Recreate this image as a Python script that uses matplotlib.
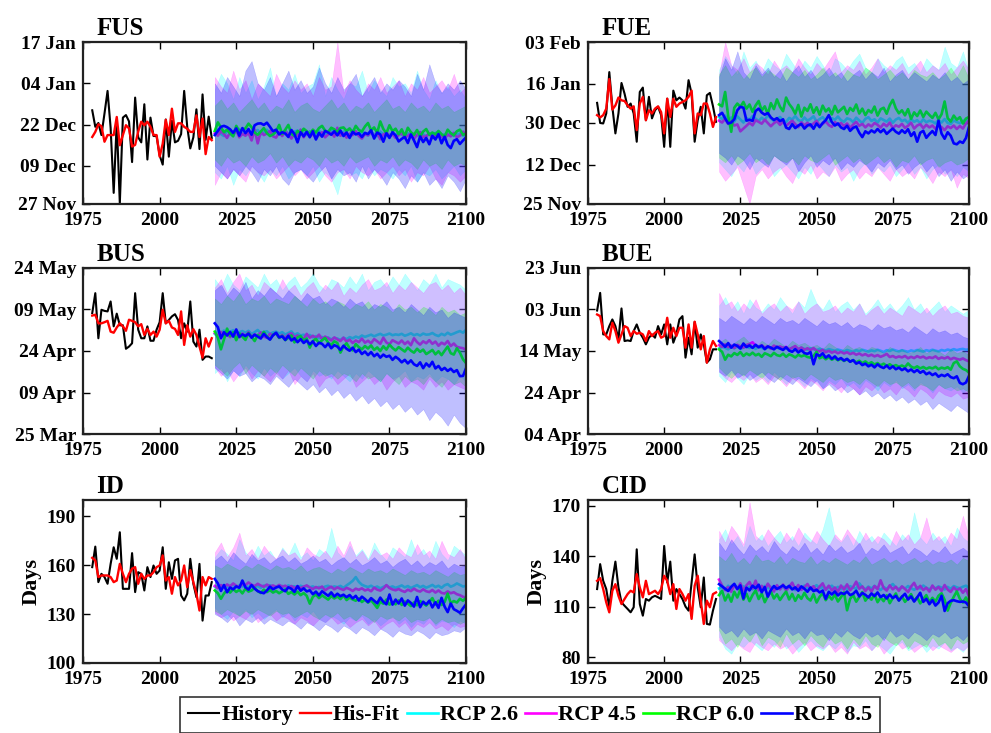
import matplotlib.pyplot as plt
import numpy as np

plt.rcParams['font.family'] = ['Liberation Serif', 'DejaVu Serif']
plt.rcParams['font.weight'] = 'bold'

hist_years = np.arange(1978, 2018)
rcp_years = np.arange(2018, 2101)
band_years = np.arange(2018, 2101, 2)

scen_names = ['RCP 2.6', 'RCP 4.5', 'RCP 6.0', 'RCP 8.5']
scen_colors = ['#00FFFF', '#FF00FF', '#00FF00', '#0000FF']

# ---------------- FUS (days after 27 Nov) ----------------
fus_hist = [29.5, 24.3, 25.5, 21.7, 28.5, 35.6, 24.0, 3.5, 25.9, 0.2,
            27.2, 28.0, 26.0, 13.2, 33.5, 21.0, 19.4, 31.4, 14.0, 27.2,
            21.4, 21.4, 15.3, 12.4, 26.6, 14.9, 26.2, 19.4, 19.9, 22.0,
            35.6, 24.3, 17.5, 21.0, 29.8, 17.3, 34.5, 20.2, 27.5, 20.8]
fus_fit = [21.1, 22.7, 25.1, 24.5, 19.6, 21.7, 21.7, 21.7, 27.4, 18.5,
           21.7, 24.8, 23.8, 18.1, 18.6, 22.8, 25.9, 24.8, 25.9, 24.3,
           21.7, 21.7, 14.9, 19.0, 26.5, 21.7, 30.0, 22.7, 25.4, 25.4,
           24.3, 23.7, 22.7, 22.7, 27.9, 21.1, 26.9, 15.7, 21.1, 20.1]
fus_26 = [22.8, 23.5, 22.0, 21.4, 23.1, 22.5, 21.7, 22.9, 23.6, 21.8,
          22.4, 23.0, 21.5, 22.7, 23.3, 21.9, 22.6, 23.4, 22.1, 21.6,
          22.9, 22.3, 21.8, 23.2, 22.0, 21.4, 22.8, 23.1, 21.9, 22.5,
          21.7, 22.9, 22.2, 21.5, 23.0, 22.4, 21.8, 22.6, 23.2, 21.9,
          22.3, 21.6, 22.8, 22.0, 21.4, 23.1, 22.5, 21.8, 22.7, 22.1,
          21.5, 22.6, 22.0, 21.3, 22.8, 21.9, 22.4, 21.7, 22.2, 21.6,
          22.5, 21.8, 21.2, 22.3, 21.6, 22.0, 21.4, 22.6, 21.9, 21.3,
          22.1, 21.5, 22.4, 21.8, 21.2, 22.0, 21.6, 22.3, 21.4, 21.9,
          22.2, 21.5, 21.8]
fus_45 = [22.3, 21.5, 23.0, 22.0, 20.8, 22.6, 21.9, 23.2, 21.0, 22.1,
          21.5, 22.4, 20.0, 23.5, 19.1, 22.8, 21.7, 22.2, 23.0, 21.3,
          20.9, 22.6, 21.4, 22.9, 21.7, 20.6, 22.2, 21.5, 23.4, 21.0,
          22.5, 21.3, 22.0, 20.7, 21.8, 22.6, 21.0, 21.9, 22.4, 21.2,
          24.0, 21.5, 22.3, 20.9, 22.1, 21.7, 22.9, 21.4, 20.6, 22.0,
          21.6, 22.8, 21.1, 22.3, 20.4, 21.9, 22.5, 21.3, 22.0, 20.8,
          21.7, 22.4, 20.9, 21.5, 22.2, 20.5, 21.8, 22.6, 21.0, 21.4,
          22.1, 20.8, 21.6, 22.0, 21.2, 20.6, 21.9, 21.3, 22.4, 21.0,
          21.5, 22.8, 21.7]
fus_60 = [23.0, 25.7, 24.1, 22.6, 23.4, 22.2, 21.3, 24.6, 22.9, 23.5,
          23.8, 25.3, 24.2, 22.5, 21.8, 22.8, 23.9, 22.3, 21.4, 21.9,
          22.8, 24.9, 22.0, 23.4, 24.9, 22.2, 21.4, 23.0, 22.3, 23.7,
          22.9, 21.9, 23.4, 22.5, 23.9, 24.6, 23.1, 22.7, 24.0, 23.5,
          22.6, 23.9, 24.1, 23.0, 23.8, 22.5, 24.6, 23.3, 22.8, 24.4,
          25.5, 23.2, 24.1, 22.4, 26.0, 23.6, 22.3, 24.8, 22.9, 23.7,
          22.0, 23.5, 21.4, 24.0, 22.6, 21.8, 23.3, 21.3, 22.8, 23.6,
          21.8, 22.5, 21.9, 23.0, 22.0, 21.2, 23.4, 22.3, 21.6, 22.9,
          23.4, 21.8, 22.2]
fus_85 = [21.7, 23.0, 24.3, 24.6, 24.2, 23.5, 22.4, 23.8, 21.5, 23.9,
          22.3, 23.6, 21.8, 24.8, 25.3, 25.4, 24.9, 25.6, 24.3, 22.9,
          23.4, 21.9, 22.6, 22.2, 21.1, 23.3, 22.0, 19.4, 22.6, 21.3,
          22.7, 21.0, 22.9, 20.3, 22.4, 21.2, 23.0, 22.5, 21.8, 22.9,
          21.6, 23.1, 21.4, 22.5, 20.8, 22.7, 21.9, 22.3, 21.1, 22.4,
          22.0, 23.2, 20.6, 22.5, 21.9, 19.6, 22.3, 20.8, 22.6, 21.6,
          19.7, 20.5, 21.1, 19.2, 21.9, 20.0, 17.9, 21.3, 19.5, 20.8,
          18.8, 21.5, 20.3, 22.0, 19.1, 21.2, 18.6, 17.6, 19.9, 20.4,
          18.9, 20.0, 21.0]
fus_hi26 = [36, 41, 38, 33, 40, 35, 39, 33, 37, 43, 34, 38, 36, 41, 35, 37, 38, 44, 34, 40, 36,
            33, 38, 37, 42, 35, 39, 36, 34, 40, 37, 38, 35, 42, 36, 33, 39, 35, 37, 34, 36, 33]
fus_lo26 = [10, 8, 12, 6, 11, 9, 12, 10, 7, 11, 9, 12, 8, 10, 11, 9, 12, 7, 10, 8, 3,
            11, 9, 10, 8, 12, 9, 11, 10, 8, 11, 9, 12, 7, 10, 9, 11, 8, 10, 12, 9, 11]
fus_hi45 = [40, 37, 35, 42, 36, 39, 33, 38, 36, 34, 41, 37, 35, 39, 36, 38, 34, 40, 36, 37, 51,
            35, 39, 36, 34, 38, 36, 40, 35, 37, 39, 34, 38, 36, 40, 35, 37, 39, 36, 41, 35, 37]
fus_lo45 = [6, 10, 8, 11, 9, 7, 12, 10, 9, 11, 8, 10, 12, 9, 11, 8, 10, 12, 9, 7, 10,
            11, 8, 12, 10, 9, 11, 8, 10, 12, 9, 11, 7, 10, 9, 12, 8, 6, 10, 9, 7, 9]
fus_hi60 = [31, 33, 30, 32, 29, 31, 33, 30, 32, 29, 31, 30, 33, 29, 31, 32, 30, 29, 31, 33, 30,
            32, 29, 31, 30, 32, 29, 31, 33, 30, 31, 29, 32, 30, 31, 29, 32, 30, 31, 29, 30, 31]
fus_lo60 = [14, 12, 15, 13, 14, 12, 15, 13, 14, 16, 13, 15, 12, 14, 13, 15, 14, 12, 15, 13, 14,
            12, 15, 13, 14, 15, 12, 14, 13, 15, 12, 14, 13, 11, 14, 12, 13, 11, 14, 12, 13, 12]
fus_hi85 = [38, 35, 40, 37, 34, 42, 45, 38, 36, 40, 34, 38, 42, 36, 39, 35, 37, 43, 38, 35, 40,
            36, 38, 41, 34, 37, 40, 35, 38, 36, 39, 37, 34, 41, 36, 44, 38, 35, 38, 36, 39, 36]
fus_lo85 = [12, 10, 8, 11, 9, 12, 10, 7, 11, 9, 12, 8, 6, 10, 11, 9, 7, 10, 12, 8, 11,
            9, 10, 7, 12, 8, 11, 9, 6, 10, 8, 5, 9, 7, 10, 6, 8, 5, 9, 7, 4, 8]
fus_ticks = [0, 12, 25, 38, 51]
fus_labels = ['27 Nov', '09 Dec', '22 Dec', '04 Jan', '17 Jan']

# ---------------- FUE (days after 25 Nov) ----------------
fue_hist = [43.7, 35.0, 34.8, 39.1, 57.0, 42.0, 30.5, 39.1, 52.3, 47.7,
            42.0, 43.4, 39.1, 26.9, 48.4, 50.3, 36.2, 46.3, 37.0, 40.5,
            42.0, 38.4, 24.7, 45.5, 24.7, 49.0, 44.8, 46.0, 44.8, 41.2,
            53.5, 47.7, 26.9, 36.2, 42.0, 30.5, 47.0, 48.0, 42.3, 35.5]
fue_fit = [38.4, 37.4, 38.4, 41.2, 54.0, 40.8, 42.6, 46.0, 44.8, 44.5,
           42.6, 41.2, 42.2, 31.9, 43.4, 46.3, 36.2, 40.5, 39.1, 41.2,
           42.2, 39.7, 30.5, 45.5, 37.6, 45.5, 42.0, 43.4, 44.1, 44.8,
           46.3, 49.0, 30.5, 39.1, 38.4, 43.4, 43.4, 39.1, 33.3, 37.6]
fue_26 = [37.5, 36.8, 38.2, 36.0, 37.4, 35.6, 37.9, 36.5, 35.2, 37.1,
          36.4, 38.0, 36.9, 35.8, 37.3, 36.2, 38.4, 37.0, 35.9, 36.8,
          37.6, 36.1, 35.4, 37.2, 36.5, 38.0, 36.3, 35.7, 37.4, 36.0,
          36.8, 37.9, 35.6, 36.7, 37.5, 36.0, 35.3, 37.1, 36.4, 37.8,
          36.2, 35.5, 37.0, 36.6, 35.4, 37.3, 36.1, 35.0, 36.8, 37.5,
          35.9, 36.6, 35.2, 37.0, 36.3, 35.6, 36.9, 35.1, 36.5, 37.2,
          35.8, 36.4, 35.0, 36.7, 35.5, 36.2, 34.9, 36.6, 35.3, 36.0,
          35.6, 34.8, 36.3, 35.2, 36.7, 35.0, 34.6, 36.1, 35.4, 34.9,
          35.8, 36.5, 35.2]
fue_45 = [36.0, 35.2, 36.8, 34.6, 35.8, 33.9, 34.4, 31.4, 32.6, 33.8,
          35.1, 34.0, 36.2, 35.5, 34.7, 36.4, 35.0, 33.6, 34.9, 35.8,
          34.2, 35.6, 33.8, 34.9, 36.0, 34.5, 33.2, 35.3, 34.0, 35.1,
          33.6, 34.8, 35.9, 33.9, 34.6, 35.7, 34.1, 33.3, 35.4, 34.2,
          35.0, 33.7, 34.8, 32.9, 34.3, 35.5, 33.8, 34.6, 33.1, 34.4,
          33.5, 35.0, 34.2, 33.0, 34.7, 33.6, 35.2, 32.8, 34.0, 33.4,
          34.6, 32.9, 33.8, 35.1, 32.6, 33.9, 34.5, 32.8, 34.2, 33.1,
          33.9, 32.5, 34.0, 33.2, 31.9, 33.6, 32.8, 33.9, 32.4, 33.7,
          32.6, 34.8, 36.0]
fue_60 = [43.0, 42.2, 48.4, 38.0, 31.2, 41.6, 43.4, 42.0, 44.1, 41.2,
          43.0, 39.8, 42.6, 44.5, 40.4, 42.2, 38.9, 43.6, 41.0, 45.2,
          42.0, 40.1, 46.0, 43.2, 41.5, 39.0, 42.8, 37.8, 41.6, 40.2,
          43.1, 39.4, 41.8, 38.6, 42.5, 40.0, 41.3, 38.7, 42.4, 39.6,
          40.8, 42.0, 38.9, 41.5, 40.2, 43.0, 39.1, 41.2, 38.4, 40.6,
          39.5, 42.1, 38.2, 40.9, 41.6, 39.0, 42.7, 45.0, 41.3, 39.2,
          40.5, 38.3, 41.0, 36.8, 39.6, 38.0, 40.4, 37.6, 39.9, 38.5,
          37.2, 39.4, 36.6, 38.8, 44.3, 37.1, 35.6, 38.2, 36.4, 37.5,
          34.8, 36.9, 37.6]
fue_85 = [38.4, 39.4, 37.0, 34.8, 35.2, 36.6, 40.5, 42.0, 41.6, 36.0,
          36.4, 35.9, 40.2, 41.2, 39.5, 38.6, 39.3, 37.4, 36.3, 37.1,
          35.8, 36.6, 33.0, 32.4, 34.5, 32.8, 33.9, 34.6, 32.6, 33.9,
          34.4, 32.5, 34.8, 33.2, 35.0, 36.2, 38.4, 35.4, 33.9, 34.8,
          33.1, 32.4, 33.8, 31.6, 32.9, 33.5, 30.8, 28.9, 31.4, 30.5,
          31.8, 30.9, 32.4, 31.0, 32.2, 30.3, 31.5, 32.6, 31.2, 30.4,
          31.9, 30.7, 32.3, 29.4, 31.0, 26.9, 30.8, 31.6, 28.6, 30.2,
          31.5, 29.8, 36.0, 30.4, 28.2, 31.0, 29.5, 26.2, 25.8, 27.0,
          26.4, 28.5, 33.3]
fue_hi26 = [58, 64, 60, 56, 66, 59, 62, 57, 63, 60, 58, 65, 61, 57, 62, 59, 64, 60, 56, 63, 61,
            58, 62, 65, 59, 57, 63, 60, 58, 62, 64, 59, 61, 57, 63, 60, 58, 68, 61, 59, 66, 57]
fue_lo26 = [18, 15, 12, 17, 14, 19, 13, 16, 18, 12, 15, 17, 14, 11, 16, 13, 18, 15, 12, 17, 14,
            16, 10, 15, 18, 13, 16, 14, 17, 12, 15, 18, 13, 16, 11, 15, 17, 13, 15, 12, 16, 14]
fue_hi45 = [56, 70, 60, 58, 63, 57, 61, 59, 56, 62, 58, 60, 57, 63, 59, 56, 61, 58, 62, 66, 57,
            60, 58, 62, 56, 59, 63, 57, 60, 58, 61, 56, 59, 62, 57, 60, 58, 61, 56, 59, 62, 58]
fue_lo45 = [14, 10, 13, 16, 8, 0, 12, 15, 11, 14, 16, 12, 9, 15, 13, 17, 11, 14, 12, 16, 10,
            13, 15, 11, 14, 12, 16, 13, 10, 15, 12, 14, 11, 16, 13, 9, 14, 12, 15, 7, 13, 11]
fue_hi60 = [56, 60, 55, 58, 54, 57, 59, 55, 58, 56, 54, 59, 57, 55, 58, 54, 56, 59, 55, 57, 54,
            58, 56, 55, 59, 57, 54, 56, 58, 55, 57, 54, 58, 56, 55, 57, 54, 56, 59, 55, 60, 54]
fue_lo60 = [20, 18, 21, 17, 19, 22, 18, 20, 17, 21, 19, 18, 20, 17, 21, 19, 18, 20, 22, 17, 19,
            21, 18, 20, 17, 19, 21, 18, 20, 16, 19, 18, 21, 17, 19, 20, 16, 18, 19, 17, 18, 20]
fue_hi85 = [55, 63, 58, 66, 57, 54, 60, 56, 59, 55, 58, 53, 57, 60, 55, 58, 54, 56, 59, 55, 57,
            53, 56, 58, 54, 57, 55, 59, 53, 56, 58, 54, 57, 55, 53, 56, 54, 57, 53, 55, 52, 54]
fue_lo85 = [22, 20, 17, 21, 19, 15, 20, 18, 16, 21, 19, 17, 20, 14, 18, 21, 16, 19, 17, 20, 15,
            18, 16, 19, 17, 14, 18, 16, 19, 15, 17, 13, 16, 18, 14, 17, 12, 15, 10, 14, 11, 13]
fue_ticks = [0, 17, 35, 52, 70]
fue_labels = ['25 Nov', '12 Dec', '30 Dec', '16 Jan', '03 Feb']

# ---------------- BUS (days after 25 Mar) ----------------
bus_hist = [43.7, 50.9, 34.6, 44.9, 44.5, 44.3, 47.9, 38.9, 43.5, 39.3,
            39.3, 30.8, 31.6, 32.8, 50.9, 37.7, 34.6, 34.6, 38.9, 33.7,
            33.7, 37.7, 40.4, 50.9, 40.0, 41.2, 42.5, 43.3, 41.2, 34.6,
            40.0, 37.0, 47.9, 33.4, 31.6, 37.7, 26.8, 28.0, 28.0, 27.4]
bus_fit = [42.8, 43.1, 40.0, 40.0, 40.4, 40.9, 37.0, 36.6, 38.5, 40.0,
           38.9, 37.3, 41.3, 40.9, 40.4, 38.9, 39.7, 35.8, 38.0, 35.8,
           37.0, 35.2, 37.7, 44.9, 40.0, 40.9, 38.5, 38.0, 35.8, 44.3,
           32.2, 39.3, 35.2, 37.9, 35.8, 31.6, 27.6, 34.6, 31.6, 34.6]
bus_26 = [36.2, 37.0, 36.5, 37.4, 36.0, 36.9, 37.5, 36.3, 36.8, 37.2,
          36.6, 37.3, 36.1, 36.8, 37.6, 36.4, 36.9, 37.1, 36.2, 36.7,
          37.0, 36.3, 36.8, 35.9, 36.5, 37.1, 35.8, 36.4, 35.6, 35.9,
          35.3, 35.8, 34.9, 35.4, 34.6, 35.1, 34.4, 34.9, 34.2, 34.7,
          34.5, 34.0, 34.8, 34.3, 35.0, 34.6, 35.2, 34.8, 35.6, 35.1,
          35.5, 35.9, 35.3, 35.8, 36.2, 35.6, 35.9, 36.3, 35.7, 36.0,
          35.8, 36.2, 35.5, 35.9, 36.4, 35.7, 36.1, 35.6, 36.3, 35.9,
          36.0, 36.5, 35.8, 35.4, 36.2, 35.7, 36.6, 35.9, 36.3, 36.8,
          37.2, 36.6, 37.7]
bus_45 = [36.4, 35.6, 36.9, 35.2, 36.1, 35.0, 36.6, 35.8, 34.9, 36.3,
          35.4, 36.8, 35.1, 36.0, 35.5, 36.7, 35.2, 34.8, 36.2, 35.6,
          36.5, 35.0, 35.8, 34.6, 35.9, 36.4, 34.9, 35.6, 35.1, 34.4,
          36.2, 34.8, 35.5, 34.7, 35.9, 34.3, 35.2, 34.6, 33.8, 34.9,
          34.2, 33.6, 34.8, 33.4, 34.1, 32.9, 33.8, 33.2, 34.5, 33.0,
          33.7, 32.8, 34.3, 33.5, 32.6, 34.8, 33.1, 32.4, 33.9, 33.3,
          32.7, 33.8, 32.5, 33.4, 32.1, 34.6, 33.2, 32.3, 33.5, 32.8,
          33.9, 32.6, 33.4, 31.9, 33.0, 32.4, 33.6, 31.8, 32.7, 31.5,
          31.2, 31.0, 30.4]
bus_60 = [37.0, 34.8, 30.6, 34.2, 38.1, 35.4, 36.8, 33.9, 36.4, 35.2,
          34.0, 36.5, 35.1, 33.6, 35.8, 34.9, 36.9, 35.3, 34.2, 35.9,
          36.4, 34.7, 35.5, 33.9, 34.8, 35.6, 33.1, 34.9, 35.4, 33.8,
          34.5, 31.2, 33.6, 34.4, 32.8, 33.9, 34.7, 33.0, 32.2, 33.5,
          32.9, 29.4, 31.6, 32.8, 31.0, 30.2, 32.5, 31.4, 30.6, 31.8,
          30.9, 32.0, 30.4, 31.3, 30.0, 31.7, 30.5, 32.3, 31.1, 30.2,
          31.4, 30.6, 29.8, 31.2, 30.1, 29.4, 30.8, 29.7, 30.5, 28.9,
          29.6, 30.4, 28.8, 29.9, 28.5, 30.1, 31.6, 29.2, 28.7, 31.0,
          29.4, 27.0, 25.6]
bus_85 = [40.0, 38.6, 34.6, 36.8, 35.6, 36.9, 35.2, 37.8, 35.1, 36.0,
          35.4, 36.3, 34.8, 35.9, 35.2, 34.5, 36.2, 35.0, 34.1, 35.7,
          36.6, 34.9, 35.3, 34.0, 35.5, 33.8, 34.6, 33.2, 34.3, 32.9,
          33.8, 32.4, 33.5, 31.8, 33.0, 32.6, 31.4, 32.7, 31.0, 32.1,
          31.6, 30.4, 31.9, 30.8, 30.1, 31.2, 29.6, 30.5, 28.9, 29.8,
          28.5, 29.6, 28.1, 29.0, 27.6, 28.7, 27.9, 28.3, 26.8, 27.9,
          27.1, 25.9, 26.8, 25.5, 26.6, 25.2, 24.6, 25.9, 23.8, 25.5,
          24.4, 26.1, 23.7, 24.6, 23.1, 23.9, 22.8, 23.6, 22.4, 23.1,
          20.9, 21.0, 23.8]
bus_hi26 = [56, 53, 58, 54, 52, 57, 55, 53, 58, 54, 56, 52, 55, 57, 53, 55, 58, 54, 52, 56, 55,
            53, 57, 54, 58, 52, 55, 56, 53, 57, 54, 58, 55, 52, 56, 54, 58, 53, 56, 55, 54, 52]
bus_lo26 = [22, 24, 19, 23, 21, 25, 22, 20, 24, 21, 23, 20, 22, 24, 21, 19, 23, 21, 22, 20, 23,
            21, 19, 22, 20, 23, 21, 19, 22, 20, 21, 23, 19, 21, 20, 22, 19, 21, 20, 18, 21, 19]
bus_hi45 = [53, 56, 51, 55, 58, 52, 54, 50, 55, 53, 51, 56, 52, 54, 50, 53, 55, 51, 54, 52, 55,
            50, 53, 51, 54, 56, 52, 53, 55, 51, 54, 52, 55, 53, 51, 54, 55, 52, 54, 51, 53, 50]
bus_lo45 = [24, 21, 23, 19, 22, 24, 20, 23, 21, 19, 22, 20, 23, 18, 21, 19, 22, 17, 20, 21, 18,
            20, 22, 17, 19, 21, 18, 20, 16, 19, 21, 17, 19, 18, 16, 20, 17, 19, 16, 18, 17, 16]
bus_hi60 = [49, 47, 50, 48, 51, 47, 49, 48, 50, 47, 49, 48, 47, 50, 48, 46, 49, 47, 48, 46, 48,
            47, 45, 47, 46, 48, 45, 47, 46, 44, 47, 45, 46, 44, 46, 45, 43, 46, 44, 45, 43, 44]
bus_lo60 = [25, 23, 21, 24, 26, 22, 25, 23, 21, 24, 22, 25, 23, 21, 24, 22, 20, 23, 21, 22, 20,
            22, 21, 19, 22, 20, 21, 19, 22, 20, 18, 21, 19, 20, 18, 21, 19, 17, 20, 18, 19, 17]
bus_hi85 = [52, 54, 50, 53, 51, 55, 49, 52, 50, 53, 51, 49, 52, 50, 48, 51, 49, 50, 47, 49, 48,
            46, 49, 47, 48, 45, 47, 46, 48, 45, 46, 44, 47, 45, 43, 46, 44, 45, 42, 44, 43, 42]
bus_lo85 = [24, 22, 20, 23, 21, 22, 19, 21, 20, 18, 21, 19, 17, 20, 18, 16, 18, 15, 17, 14, 16,
            13, 15, 12, 14, 11, 13, 10, 12, 9, 11, 8, 10, 7, 9, 5, 8, 6, 3, 7, 4, 2]
bus_ticks = [0, 15, 30, 45, 60]
bus_labels = ['25 Mar', '09 Apr', '24 Apr', '09 May', '24 May']

# ---------------- BUE (days after 04 Apr) ----------------
bue_hist = [59.5, 68.0, 48.0, 48.0, 52.0, 55.2, 52.0, 45.6, 60.5, 44.8,
            45.1, 44.8, 49.6, 52.8, 48.8, 46.4, 43.2, 46.4, 48.0, 46.4,
            52.0, 48.0, 52.8, 43.2, 52.8, 44.0, 48.0, 55.2, 56.8, 36.8,
            46.4, 38.4, 54.0, 41.6, 48.0, 43.2, 34.4, 36.0, 40.8, 40.8]
bue_fit = [57.6, 56.8, 49.6, 47.2, 45.6, 53.6, 49.6, 44.0, 48.0, 52.0,
           51.2, 47.2, 49.6, 48.3, 48.8, 48.0, 44.8, 49.6, 47.2, 48.8,
           49.6, 46.4, 47.2, 56.0, 46.4, 51.2, 47.2, 51.2, 51.2, 41.6,
           52.8, 41.6, 54.1, 48.0, 40.8, 47.2, 34.4, 40.8, 44.8, 42.4]
bue_26 = [41.2, 42.0, 41.5, 40.8, 41.9, 41.3, 42.2, 41.0, 41.7, 42.1,
          41.4, 41.9, 41.0, 42.0, 41.5, 40.9, 41.8, 41.3, 42.1, 41.6,
          41.1, 41.8, 41.4, 40.7, 41.6, 41.2, 40.8, 41.5, 41.0, 40.6,
          41.3, 40.9, 40.4, 41.1, 40.6, 40.2, 40.9, 40.5, 40.1, 40.7,
          40.3, 39.8, 40.5, 40.0, 39.6, 40.4, 39.9, 40.6, 40.2, 39.7,
          40.3, 39.9, 40.6, 40.1, 39.5, 40.4, 40.0, 40.7, 40.2, 39.8,
          40.4, 40.0, 39.6, 40.3, 39.9, 40.5, 40.1, 39.7, 40.4, 40.0,
          40.6, 40.2, 39.8, 40.5, 40.1, 40.7, 40.3, 40.9, 40.4, 40.8,
          41.0, 40.6, 40.8]
bue_45 = [42.8, 42.0, 43.2, 41.8, 42.6, 41.4, 43.0, 42.2, 41.6, 42.9,
          43.4, 44.2, 42.5, 41.9, 42.8, 41.6, 42.3, 41.1, 42.6, 41.8,
          42.2, 41.5, 42.0, 40.8, 41.6, 42.4, 40.9, 41.7, 40.6, 41.3,
          40.5, 41.4, 40.2, 39.8, 40.6, 39.4, 40.1, 39.2, 39.8, 38.9,
          39.6, 38.8, 39.4, 38.5, 39.1, 38.2, 38.8, 37.9, 38.5, 37.6,
          38.2, 37.4, 38.0, 37.2, 37.8, 38.6, 37.1, 37.6, 36.8, 37.4,
          36.9, 37.6, 36.5, 37.2, 36.6, 37.5, 36.8, 37.3, 36.4, 37.0,
          36.6, 37.4, 36.2, 36.9, 36.4, 37.1, 36.0, 36.7, 36.2, 35.8,
          36.4, 35.6, 35.0]
bue_60 = [40.8, 39.6, 35.8, 38.2, 37.4, 39.0, 38.1, 39.5, 37.6, 38.8,
          38.0, 39.2, 37.9, 38.6, 37.2, 38.9, 38.3, 37.5, 39.1, 38.0,
          37.6, 38.7, 37.2, 38.4, 37.8, 36.9, 38.2, 37.4, 38.0, 37.1,
          36.8, 37.6, 39.6, 36.5, 37.3, 36.0, 37.1, 35.8, 36.6, 35.5,
          36.3, 35.2, 36.0, 34.9, 35.6, 34.5, 35.3, 34.2, 35.0, 33.8,
          34.6, 33.5, 34.2, 33.1, 33.9, 32.8, 33.6, 32.6, 33.2, 32.4,
          33.0, 32.2, 34.0, 32.5, 31.8, 32.6, 31.6, 32.3, 31.4, 32.1,
          31.6, 32.4, 31.2, 32.0, 31.5, 32.2, 31.0, 34.2, 35.0, 32.6,
          31.4, 30.8, 29.6]
bue_85 = [44.8, 43.5, 42.0, 43.8, 41.6, 43.1, 42.4, 41.2, 43.6, 41.9,
          42.7, 41.5, 43.0, 41.8, 42.6, 40.9, 42.2, 41.6, 40.8, 42.0,
          41.2, 40.5, 41.8, 40.2, 39.6, 40.9, 39.3, 40.4, 39.0, 38.6,
          39.5, 33.6, 38.4, 37.6, 38.9, 36.8, 37.9, 36.2, 37.4, 35.8,
          36.6, 35.4, 36.2, 34.8, 35.6, 33.9, 34.6, 33.2, 33.9, 32.6,
          33.4, 32.1, 33.6, 32.4, 31.8, 33.0, 31.5, 32.6, 31.2, 32.0,
          30.8, 31.6, 30.2, 31.1, 29.8, 30.9, 29.5, 30.4, 28.8, 29.6,
          28.4, 29.2, 27.6, 28.5, 27.9, 28.8, 27.4, 26.9, 27.8, 24.6,
          24.0, 24.8, 28.0]
bue_hi26 = [62, 66, 60, 64, 58, 65, 61, 59, 63, 60, 66, 62, 58, 64, 61, 70, 63, 60, 65, 59, 62,
            64, 60, 63, 58, 61, 65, 60, 63, 59, 62, 66, 60, 63, 58, 61, 64, 59, 62, 60, 58, 60]
bue_lo26 = [28, 25, 30, 27, 24, 29, 26, 28, 25, 30, 27, 24, 28, 26, 23, 27, 25, 22, 26, 24, 27,
            23, 25, 22, 26, 24, 21, 25, 23, 26, 22, 24, 21, 25, 23, 20, 24, 22, 21, 23, 20, 22]
bue_hi45 = [68, 62, 64, 59, 63, 60, 65, 58, 61, 63, 59, 62, 60, 64, 58, 61, 63, 59, 60, 62, 58,
            61, 59, 63, 57, 60, 62, 58, 61, 59, 57, 62, 60, 58, 61, 57, 60, 62, 58, 59, 57, 56]
bue_lo45 = [30, 27, 25, 28, 26, 29, 25, 27, 24, 28, 26, 23, 27, 25, 22, 26, 24, 21, 25, 23, 20,
            24, 22, 19, 23, 21, 24, 20, 22, 19, 23, 21, 18, 22, 20, 17, 21, 19, 18, 20, 17, 18]
bue_hi60 = [44, 46, 43, 45, 47, 44, 42, 45, 43, 46, 44, 42, 45, 43, 44, 42, 43, 41, 44, 42, 40,
            43, 41, 42, 40, 42, 41, 39, 42, 40, 41, 39, 40, 42, 39, 41, 40, 38, 41, 39, 40, 38]
bue_lo60 = [32, 29, 27, 30, 28, 31, 29, 27, 30, 28, 26, 29, 27, 28, 26, 29, 27, 25, 28, 26, 27,
            25, 26, 24, 27, 25, 23, 26, 24, 25, 23, 25, 22, 24, 23, 21, 24, 22, 23, 21, 22, 20]
bue_hi85 = [56, 54, 57, 55, 53, 56, 54, 57, 55, 53, 56, 54, 55, 53, 56, 54, 52, 55, 53, 54, 52,
            54, 51, 53, 52, 50, 53, 51, 52, 50, 51, 49, 52, 50, 48, 51, 49, 50, 48, 49, 47, 46]
bue_lo85 = [30, 28, 31, 27, 29, 26, 28, 30, 27, 25, 28, 26, 24, 27, 25, 23, 26, 22, 24, 21, 23,
            20, 22, 19, 21, 18, 20, 17, 19, 16, 18, 15, 17, 14, 16, 12, 15, 13, 11, 14, 12, 10]
bue_ticks = [0, 20, 40, 60, 80]
bue_labels = ['04 Apr', '24 Apr', '14 May', '03 Jun', '23 Jun']

# ---------------- ID (days) ----------------
id_hist = [158.8, 171.4, 149.6, 154.7, 152.7, 148.6, 160.8, 171.0, 163.9, 180.2,
           145.5, 145.5, 145.5, 167.4, 143.5, 155.7, 154.7, 144.5, 158.8, 152.7,
           159.8, 154.7, 156.7, 171.0, 145.5, 161.8, 151.6, 162.9, 163.9, 141.4,
           138.4, 142.5, 163.9, 148.6, 140.4, 160.8, 126.0, 141.4, 141.4, 149.6]
id_fit = [164.5, 162.9, 152.7, 153.7, 153.7, 153.7, 152.7, 149.6, 150.6, 160.8,
          154.7, 149.6, 154.7, 157.8, 158.8, 148.6, 154.7, 151.6, 153.7, 153.7,
          155.7, 158.8, 159.8, 166.0, 150.6, 152.7, 142.5, 152.7, 147.6, 150.6,
          159.8, 146.5, 157.0, 149.6, 142.5, 132.2, 152.7, 147.6, 152.7, 151.6]
id_26 = [146.8, 147.5, 146.2, 147.9, 146.6, 147.2, 148.0, 146.4, 147.6, 146.9,
         147.4, 146.5, 147.8, 146.8, 147.2, 146.1, 147.5, 146.9, 147.7, 146.4,
         147.0, 146.5, 147.3, 146.2, 147.6, 146.8, 147.1, 146.0, 147.4, 146.6,
         147.2, 146.4, 147.0, 145.9, 146.7, 145.6, 146.9, 147.4, 146.2, 147.0,
         146.5, 147.3, 146.1, 147.6, 148.9, 150.4, 152.7, 149.8, 148.0, 147.2,
         146.6, 147.4, 146.2, 146.9, 145.8, 146.7, 147.5, 146.3, 147.0, 146.1,
         146.8, 147.6, 146.4, 147.2, 146.0, 146.9, 147.8, 146.5, 147.3, 146.2,
         147.0, 147.9, 146.6, 147.4, 146.1, 147.7, 148.4, 146.8, 147.6, 148.8,
         147.9, 146.9, 147.4]
id_45 = [147.2, 146.0, 147.8, 146.5, 148.2, 147.0, 148.8, 147.4, 146.6, 148.5,
         147.8, 149.4, 148.0, 147.2, 148.6, 147.5, 146.8, 148.1, 147.0, 147.6,
         146.6, 147.9, 146.8, 147.4, 146.2, 147.2, 146.0, 147.0, 145.9, 146.8,
         147.6, 146.3, 145.4, 146.6, 145.8, 146.9, 144.6, 145.9, 146.8, 145.2,
         146.4, 145.5, 144.8, 146.1, 145.3, 144.2, 145.6, 144.9, 145.8, 144.5,
         145.2, 144.0, 146.2, 145.0, 144.4, 145.7, 147.8, 146.0, 145.1, 144.6,
         145.4, 144.3, 143.6, 145.0, 144.1, 145.6, 144.4, 143.8, 145.2, 144.0,
         143.5, 144.8, 143.2, 144.5, 143.0, 142.6, 143.9, 142.8, 143.4, 142.2,
         141.6, 140.6, 140.2]
id_60 = [144.5, 142.8, 139.4, 142.6, 144.8, 143.2, 145.4, 143.6, 144.9, 142.7,
         145.6, 143.8, 144.5, 146.2, 144.1, 142.9, 145.0, 143.5, 144.7, 143.2,
         144.2, 142.8, 143.9, 145.1, 142.4, 143.6, 142.0, 143.8, 141.6, 142.9,
         141.2, 136.4, 140.6, 142.0, 139.8, 141.5, 140.2, 138.9, 141.1, 139.6,
         140.8, 139.2, 141.4, 138.6, 140.1, 139.0, 138.2, 139.7, 137.4, 138.8,
         137.0, 138.5, 136.2, 133.8, 137.6, 136.4, 138.9, 135.8, 137.2, 136.0,
         138.4, 135.6, 137.8, 136.5, 134.9, 137.2, 135.4, 138.0, 136.6, 135.2,
         137.5, 139.8, 136.0, 138.2, 135.6, 137.4, 142.6, 136.8, 138.0, 137.1,
         139.4, 138.2, 140.0]
id_85 = [151.6, 148.8, 144.2, 147.8, 143.4, 146.3, 145.2, 147.0, 146.1, 150.6,
         146.4, 145.0, 147.8, 145.6, 144.1, 143.3, 142.8, 144.5, 146.8, 145.2,
         146.3, 147.0, 145.1, 144.0, 146.4, 145.5, 143.6, 147.2, 144.3, 145.8,
         143.9, 144.6, 142.2, 143.8, 141.5, 144.0, 142.6, 141.2, 143.3, 140.8,
         142.5, 141.0, 141.9, 140.4, 141.7, 139.6, 141.2, 138.3, 140.7, 139.2,
         137.4, 139.8, 138.2, 136.6, 140.1, 137.5, 136.0, 142.0, 135.8, 138.9,
         136.5, 139.6, 135.2, 138.4, 136.8, 134.6, 140.5, 134.2, 137.6, 135.9,
         138.2, 134.1, 137.3, 133.8, 140.0, 134.6, 131.2, 136.5, 133.0, 132.0,
         130.8, 133.6, 136.0]
id_hi26 = [165, 170, 167, 163, 176, 168, 164, 172, 166, 169, 163, 171, 166, 174, 165, 168, 163, 170, 167, 183, 168,
           164, 172, 166, 170, 164, 174, 167, 163, 171, 168, 165, 176, 166, 170, 164, 175, 167, 163, 172, 169, 166]
id_lo26 = [134, 130, 127, 132, 129, 133, 128, 131, 127, 130, 133, 128, 131, 126, 130, 128, 132, 127, 125, 129, 127,
           124, 128, 126, 129, 124, 127, 123, 126, 129, 124, 127, 122, 126, 124, 128, 123, 126, 125, 122, 126, 124]
id_hi45 = [168, 174, 165, 171, 180, 166, 170, 164, 172, 167, 164, 170, 166, 168, 163, 171, 167, 165, 169, 164, 172,
           166, 175, 165, 169, 163, 170, 166, 168, 164, 171, 167, 165, 173, 166, 169, 164, 175, 167, 165, 170, 163]
id_lo45 = [131, 128, 130, 126, 129, 127, 131, 125, 128, 130, 126, 129, 127, 124, 128, 126, 123, 127, 125, 128, 124,
           126, 122, 125, 127, 123, 126, 121, 124, 126, 122, 125, 120, 124, 122, 125, 121, 123, 120, 124, 122, 123]
id_hi60 = [160, 158, 161, 159, 157, 160, 158, 161, 159, 157, 160, 158, 159, 157, 160, 156, 158, 159, 157, 155, 158,
           156, 159, 157, 155, 158, 156, 157, 155, 158, 156, 154, 157, 155, 156, 154, 157, 155, 153, 156, 154, 155]
id_lo60 = [132, 130, 133, 131, 129, 132, 130, 133, 131, 129, 132, 130, 131, 128, 130, 132, 129, 127, 130, 128, 131,
           127, 129, 126, 130, 128, 125, 129, 127, 128, 126, 129, 125, 127, 126, 128, 124, 127, 125, 126, 124, 126]
id_hi85 = [163, 166, 162, 168, 164, 161, 167, 163, 165, 161, 164, 166, 162, 165, 161, 163, 166, 162, 164, 160, 163,
           165, 161, 164, 160, 162, 165, 161, 163, 159, 162, 164, 160, 163, 159, 162, 160, 163, 158, 161, 159, 160]
id_lo85 = [130, 128, 125, 129, 123, 127, 125, 128, 124, 127, 125, 123, 126, 124, 121, 125, 123, 120, 124, 122, 119,
           123, 121, 118, 122, 120, 117, 121, 119, 116, 120, 118, 117, 120, 118, 115, 119, 117, 118, 120, 119, 122]
id_ticks = [100, 130, 160, 190]

# ---------------- CID (days) ----------------
cid_hist = [120.4, 135.2, 125.3, 120.4, 109.6, 125.3, 136.7, 121.4, 112.5, 110.5,
            108.6, 106.6, 109.6, 144.0, 111.5, 104.6, 114.5, 113.5, 115.5, 116.4,
            115.5, 114.5, 146.0, 124.3, 136.7, 113.5, 120.4, 117.4, 114.5, 110.0,
            107.6, 124.3, 141.0, 121.4, 109.6, 127.3, 99.7, 99.3, 107.6, 114.5]
cid_fit = [125.3, 126.9, 120.4, 112.5, 106.6, 119.4, 123.3, 116.4, 111.5, 114.5,
           117.4, 119.4, 118.4, 129.3, 121.4, 115.5, 125.3, 117.4, 118.4, 119.4,
           117.4, 120.4, 128.3, 125.3, 117.4, 123.3, 108.6, 120.4, 117.4, 113.5,
           117.4, 102.7, 122.3, 128.3, 113.5, 99.7, 113.5, 109.6, 117.4, 118.4]
cid_26 = [120.8, 121.6, 119.9, 122.4, 120.6, 123.0, 121.2, 119.8, 122.1, 120.5,
          121.8, 120.2, 122.6, 121.0, 119.6, 122.3, 120.9, 121.7, 120.1, 122.0,
          120.6, 121.9, 120.3, 122.2, 121.1, 119.8, 121.5, 120.4, 122.5, 121.0,
          120.2, 121.4, 122.7, 120.8, 121.6, 119.9, 121.2, 122.4, 120.5, 121.7,
          120.4, 121.8, 120.0, 122.1, 121.3, 120.6, 123.8, 121.5, 120.2, 121.9,
          120.7, 122.3, 121.0, 119.8, 121.6, 120.5, 122.0, 123.4, 121.2, 120.4,
          121.8, 120.6, 122.2, 121.0, 119.9, 121.4, 120.7, 122.5, 121.1, 120.3,
          121.6, 120.8, 122.0, 121.3, 120.1, 121.7, 120.5, 122.2, 121.4, 120.9,
          121.8, 122.4, 121.0]
cid_45 = [126.0, 122.4, 119.8, 121.6, 118.8, 122.9, 120.4, 123.8, 119.2, 122.6,
          124.6, 120.8, 125.4, 119.6, 122.3, 120.1, 123.6, 121.0, 118.9, 122.7,
          120.2, 123.1, 119.5, 121.8, 124.2, 120.4, 122.8, 119.9, 121.5, 123.4,
          120.6, 122.1, 119.4, 121.9, 123.8, 120.0, 122.4, 119.6, 121.3, 118.8,
          122.5, 120.1, 123.2, 119.7, 121.6, 124.8, 120.6, 122.0, 119.2, 121.4,
          118.9, 122.2, 120.3, 125.6, 121.0, 119.5, 122.6, 120.2, 121.8, 119.4,
          122.0, 120.5, 118.6, 121.9, 124.1, 120.4, 122.3, 119.8, 121.2, 118.9,
          122.5, 120.0, 121.6, 119.3, 122.8, 120.1, 118.7, 121.4, 119.6, 120.8,
          118.2, 120.4, 116.0]
cid_60 = [116.8, 119.4, 113.6, 117.2, 112.9, 118.8, 115.4, 120.2, 114.1, 117.6,
          113.2, 116.9, 119.6, 114.5, 117.8, 112.6, 116.2, 119.0, 114.8, 117.3,
          113.9, 116.6, 118.9, 114.2, 117.5, 113.4, 116.8, 114.6, 118.2, 115.0,
          113.6, 117.4, 112.4, 115.8, 118.0, 113.8, 116.5, 114.2, 117.1, 113.0,
          115.6, 118.4, 107.8, 114.6, 116.9, 112.9, 115.7, 118.6, 113.5, 116.0,
          114.1, 117.2, 112.6, 115.4, 113.2, 116.7, 112.0, 115.1, 117.8, 113.6,
          116.1, 112.8, 114.9, 117.4, 113.3, 115.6, 111.9, 114.4, 116.8, 112.6,
          115.2, 113.0, 116.4, 117.9, 114.0, 107.6, 112.2, 115.8, 119.0, 114.6,
          112.4, 115.4, 111.8]
cid_85 = [123.3, 122.0, 120.6, 119.2, 121.8, 123.5, 120.4, 122.6, 114.8, 121.2,
          119.6, 122.4, 120.8, 123.0, 118.5, 121.6, 115.9, 119.8, 122.2, 120.4,
          121.5, 122.6, 121.0, 122.3, 120.2, 121.4, 119.4, 122.0, 120.6, 118.8,
          121.3, 119.2, 120.0, 118.4, 119.5, 114.6, 118.8, 117.2, 119.0, 116.6,
          118.2, 117.4, 118.9, 116.8, 117.6, 119.4, 116.0, 118.1, 117.0, 115.4,
          117.8, 116.2, 118.4, 115.6, 116.9, 114.8, 117.2, 115.0, 116.4, 113.6,
          115.8, 117.6, 114.2, 116.0, 113.0, 115.4, 118.2, 112.8, 114.6, 111.4,
          113.8, 110.6, 112.4, 116.4, 107.4, 112.0, 113.4, 113.8, 113.2, 112.8,
          113.0, 112.4, 110.2]
cid_hi26 = [150, 156, 147, 152, 145, 158, 149, 153, 146, 151, 155, 148, 152, 146, 154, 150, 147, 156, 169, 151, 148,
            153, 146, 155, 149, 152, 147, 154, 150, 146, 153, 149, 166, 151, 147, 154, 149, 152, 146, 157, 151, 148]
cid_lo26 = [92, 85, 82, 88, 86, 90, 87, 84, 89, 86, 91, 85, 88, 83, 87, 90, 86, 84, 88, 85, 89,
            83, 87, 86, 90, 84, 88, 85, 82, 87, 89, 84, 86, 88, 83, 87, 85, 89, 84, 86, 83, 88]
cid_hi45 = [155, 148, 158, 153, 147, 172, 152, 149, 156, 151, 147, 154, 149, 157, 151, 148, 155, 150, 146, 153, 149,
            156, 151, 147, 154, 148, 152, 150, 146, 155, 149, 153, 147, 151, 163, 149, 152, 147, 154, 150, 164, 151]
cid_lo45 = [90, 87, 84, 88, 85, 83, 89, 86, 84, 88, 85, 87, 82, 86, 89, 84, 87, 85, 88, 83, 86,
            82, 89, 85, 87, 84, 88, 82, 86, 89, 85, 87, 83, 86, 88, 84, 87, 85, 83, 86, 84, 87]
cid_hi60 = [140, 137, 142, 136, 139, 135, 141, 137, 138, 136, 140, 135, 139, 137, 136, 140, 135, 138, 136, 139, 137,
            135, 138, 136, 140, 135, 137, 139, 136, 138, 135, 137, 139, 136, 138, 135, 137, 136, 138, 135, 139, 137]
cid_lo60 = [96, 88, 91, 86, 93, 89, 95, 87, 92, 90, 86, 94, 88, 91, 87, 93, 89, 86, 92, 88, 90,
            85, 91, 87, 93, 88, 86, 92, 89, 87, 91, 85, 90, 88, 86, 92, 87, 89, 85, 91, 88, 90]
cid_hi85 = [148, 143, 150, 145, 141, 147, 143, 146, 142, 149, 144, 141, 146, 143, 148, 142, 145, 141, 147, 143, 146,
            142, 144, 148, 141, 145, 143, 147, 142, 144, 146, 141, 145, 143, 140, 144, 142, 146, 141, 143, 145, 142]
cid_lo85 = [98, 94, 96, 92, 97, 93, 95, 91, 96, 94, 92, 97, 93, 95, 91, 96, 93, 94, 90, 95, 92,
            96, 93, 91, 95, 92, 94, 90, 96, 92, 94, 91, 95, 93, 90, 94, 92, 95, 91, 93, 90, 94]
cid_ticks = [80, 110, 140, 170]

panels = [
    dict(title='FUS', hist=fus_hist, fit=fus_fit, mean=[fus_26, fus_45, fus_60, fus_85],
         lo=[fus_lo26, fus_lo45, fus_lo60, fus_lo85], hi=[fus_hi26, fus_hi45, fus_hi60, fus_hi85],
         ylim=(0, 51), ticks=fus_ticks, labels=fus_labels, ylabel=None),
    dict(title='FUE', hist=fue_hist, fit=fue_fit, mean=[fue_26, fue_45, fue_60, fue_85],
         lo=[fue_lo26, fue_lo45, fue_lo60, fue_lo85], hi=[fue_hi26, fue_hi45, fue_hi60, fue_hi85],
         ylim=(0, 70), ticks=fue_ticks, labels=fue_labels, ylabel=None),
    dict(title='BUS', hist=bus_hist, fit=bus_fit, mean=[bus_26, bus_45, bus_60, bus_85],
         lo=[bus_lo26, bus_lo45, bus_lo60, bus_lo85], hi=[bus_hi26, bus_hi45, bus_hi60, bus_hi85],
         ylim=(0, 60), ticks=bus_ticks, labels=bus_labels, ylabel=None),
    dict(title='BUE', hist=bue_hist, fit=bue_fit, mean=[bue_26, bue_45, bue_60, bue_85],
         lo=[bue_lo26, bue_lo45, bue_lo60, bue_lo85], hi=[bue_hi26, bue_hi45, bue_hi60, bue_hi85],
         ylim=(0, 80), ticks=bue_ticks, labels=bue_labels, ylabel=None),
    dict(title='ID', hist=id_hist, fit=id_fit, mean=[id_26, id_45, id_60, id_85],
         lo=[id_lo26, id_lo45, id_lo60, id_lo85], hi=[id_hi26, id_hi45, id_hi60, id_hi85],
         ylim=(100, 200), ticks=id_ticks, labels=[str(t) for t in id_ticks], ylabel='Days'),
    dict(title='CID', hist=cid_hist, fit=cid_fit, mean=[cid_26, cid_45, cid_60, cid_85],
         lo=[cid_lo26, cid_lo45, cid_lo60, cid_lo85], hi=[cid_hi26, cid_hi45, cid_hi60, cid_hi85],
         ylim=(76.5, 173.3), ticks=cid_ticks, labels=[str(t) for t in cid_ticks], ylabel='Days'),
]

positions = [
    [0.0838, 0.7217, 0.3865, 0.2210], [0.5933, 0.7217, 0.3845, 0.2210],
    [0.0838, 0.4079, 0.3865, 0.2265], [0.5933, 0.4079, 0.3845, 0.2265],
    [0.0838, 0.0955, 0.3865, 0.2224], [0.5933, 0.0955, 0.3845, 0.2224],
]

fig = plt.figure(figsize=(9.91, 7.33), dpi=100)

for p, pos in zip(panels, positions):
    ax = fig.add_axes(pos)
    h_hist, = ax.plot(hist_years, p['hist'], color='black', lw=1.5, label='History', zorder=20)
    h_fit, = ax.plot(hist_years, p['fit'], color='red', lw=1.7, label='His-Fit', zorder=21)
    handles = [h_hist, h_fit]
    # each band is drawn over the previous scenario's line, like the original
    for i in range(4):
        ax.fill_between(band_years, p['lo'][i], p['hi'][i], color=scen_colors[i],
                        alpha=0.25, lw=0.3, zorder=2 + 2 * i)
        h, = ax.plot(rcp_years, p['mean'][i], color=scen_colors[i], lw=1.9,
                     label=scen_names[i], zorder=3 + 2 * i)
        handles.append(h)
    ax.set_xlim(1975, 2100)
    ax.set_xticks([1975, 2000, 2025, 2050, 2075, 2100])
    ax.set_ylim(*p['ylim'])
    ax.set_yticks(p['ticks'])
    ax.set_yticklabels(p['labels'])
    ax.tick_params(direction='in', length=5, width=1, top=True, right=True,
                   labelsize=14, pad=5)
    ax.tick_params(axis='x', pad=6)
    for s in ax.spines.values():
        s.set_linewidth(1.6)
        s.set_color('#222222')
        s.set_zorder(30)
    if p['ylabel']:
        ax.set_ylabel(p['ylabel'], fontsize=16, fontweight='bold', labelpad=4)
    ax.text(0.035, 1.045, p['title'], transform=ax.transAxes, fontsize=18,
            fontweight='bold', va='baseline', ha='left')

leg = fig.legend(handles, ['History', 'His-Fit'] + scen_names, loc='upper center',
                 bbox_to_anchor=(0.535, 0.049), ncol=6, frameon=True, fancybox=False,
                 edgecolor='black', fontsize=16, handlelength=1.4, handletextpad=0.1,
                 columnspacing=0.3, borderpad=0.35, borderaxespad=0)
leg.get_frame().set_linewidth(1.2)

fig.savefig('out.png', dpi=100)
